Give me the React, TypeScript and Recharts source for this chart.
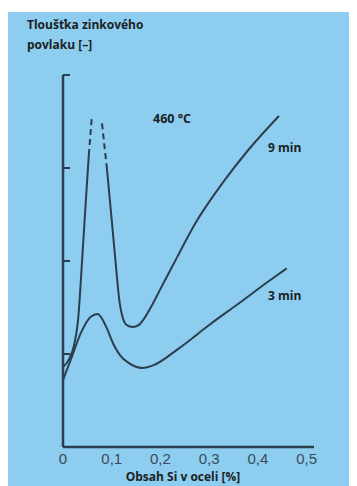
import React from 'react';
import { LineChart, Line, XAxis, YAxis } from 'recharts';

// obsah Si v oceli [%] a tloušťka povlaku (relativní jednotky)
const si9Left = [0, 0.012, 0.022, 0.031, 0.039, 0.047, 0.053];
const h9Left = [0.86, 0.94, 1.08, 1.37, 1.99, 2.66, 3.14];

const si9DashLeft = [0.053, 0.059];
const h9DashLeft = [3.14, 3.54];

const si9DashRight = [0.08, 0.09];
const h9DashRight = [3.48, 3.0];

const si9Right = [0.09, 0.1, 0.108, 0.116, 0.122, 0.131, 0.143, 0.155, 0.165, 0.18, 0.2, 0.235, 0.271, 0.329, 0.378, 0.443];
const h9Right = [3.0, 2.44, 1.98, 1.56, 1.4, 1.31, 1.29, 1.31, 1.37, 1.5, 1.7, 2.05, 2.4, 2.85, 3.18, 3.56];

const si3 = [0, 0.016, 0.037, 0.057, 0.071, 0.088, 0.104, 0.118, 0.133, 0.163, 0.186, 0.235, 0.302, 0.357, 0.424, 0.459];
const h3 = [0.72, 0.94, 1.23, 1.4, 1.43, 1.3, 1.1, 0.98, 0.91, 0.85, 0.88, 1.05, 1.32, 1.53, 1.79, 1.92];

const xTicks = [0, 0.1, 0.2, 0.3, 0.4, 0.5];
const yTicks = [0, 1, 2, 3, 4];

const toPoints = (xs: number[], ys: number[]) => xs.map((x, i) => ({ si: x, h: ys[i] }));

const LINE = '#2c3e4c';
const BG = '#8dcdf0';
const TEXT = '#1b1f22';

const noteStyle: React.CSSProperties = {
  position: 'absolute',
  fontFamily: '"Open Sans", sans-serif',
  fontWeight: 700,
  fontSize: 12,
  color: TEXT,
  whiteSpace: 'nowrap',
  lineHeight: '20px',
};

// krátké značky dovnitř grafu
const InnerTick = (props: any) => {
  const { x, y } = props;
  return <line x1={x - 7} x2={x} y1={y} y2={y} stroke={LINE} strokeWidth={2} />;
};

const App: React.FC = () => {
  return (
    <div style={{ paddingTop: 4 }}>
      <div style={{ position: 'relative', width: 349, height: 474, background: BG }}>
        <div style={{ ...noteStyle, left: 19, top: 3 }}>Tloušťka zinkového</div>
        <div style={{ ...noteStyle, left: 19, top: 23 }}>povlaku [–]</div>
        <div style={{ ...noteStyle, left: 145, top: 97, fontSize: 12.5 }}>460 °C</div>
        <div style={{ ...noteStyle, left: 260, top: 126 }}>9 min</div>
        <div style={{ ...noteStyle, left: 260, top: 274 }}>3 min</div>
        <div style={{ ...noteStyle, left: 175, top: 455, transform: 'translateX(-50%)' }}>Obsah Si v oceli [%]</div>
        <LineChart width={349} height={474} margin={{ top: 63, right: 43, bottom: 0, left: 55 }}>
          <XAxis
            dataKey="si"
            type="number"
            domain={[0, 0.515]}
            ticks={xTicks}
            allowDataOverflow
            height={39}
            tickLine={false}
            tickMargin={0}
            axisLine={{ stroke: LINE, strokeWidth: 2.5 }}
            tick={{ fill: '#3b4b57', fontSize: 15, fontFamily: '"Liberation Sans", Arial, sans-serif' }}
            tickFormatter={(v: number) => String(v).replace('.', ',')}
          />
          <YAxis
            dataKey="h"
            type="number"
            domain={[0, 4]}
            ticks={yTicks}
            mirror
            tick={<InnerTick />}
            tickSize={7}
            tickMargin={0}
            tickLine={false}
            axisLine={{ stroke: LINE, strokeWidth: 2.5 }}
          />
          <Line data={toPoints(si9Left, h9Left)} dataKey="h" type="monotone" stroke={LINE} strokeWidth={2} dot={false} isAnimationActive={false} />
          <Line data={toPoints(si9DashLeft, h9DashLeft)} dataKey="h" type="linear" stroke={LINE} strokeWidth={2} strokeDasharray="6 4" dot={false} isAnimationActive={false} />
          <Line data={toPoints(si9DashRight, h9DashRight)} dataKey="h" type="linear" stroke={LINE} strokeWidth={2} strokeDasharray="6 4" dot={false} isAnimationActive={false} />
          <Line data={toPoints(si9Right, h9Right)} dataKey="h" type="monotone" stroke={LINE} strokeWidth={2} dot={false} isAnimationActive={false} />
          <Line data={toPoints(si3, h3)} dataKey="h" type="monotone" stroke={LINE} strokeWidth={2} dot={false} isAnimationActive={false} />
        </LineChart>
      </div>
    </div>
  );
};

export default App;
